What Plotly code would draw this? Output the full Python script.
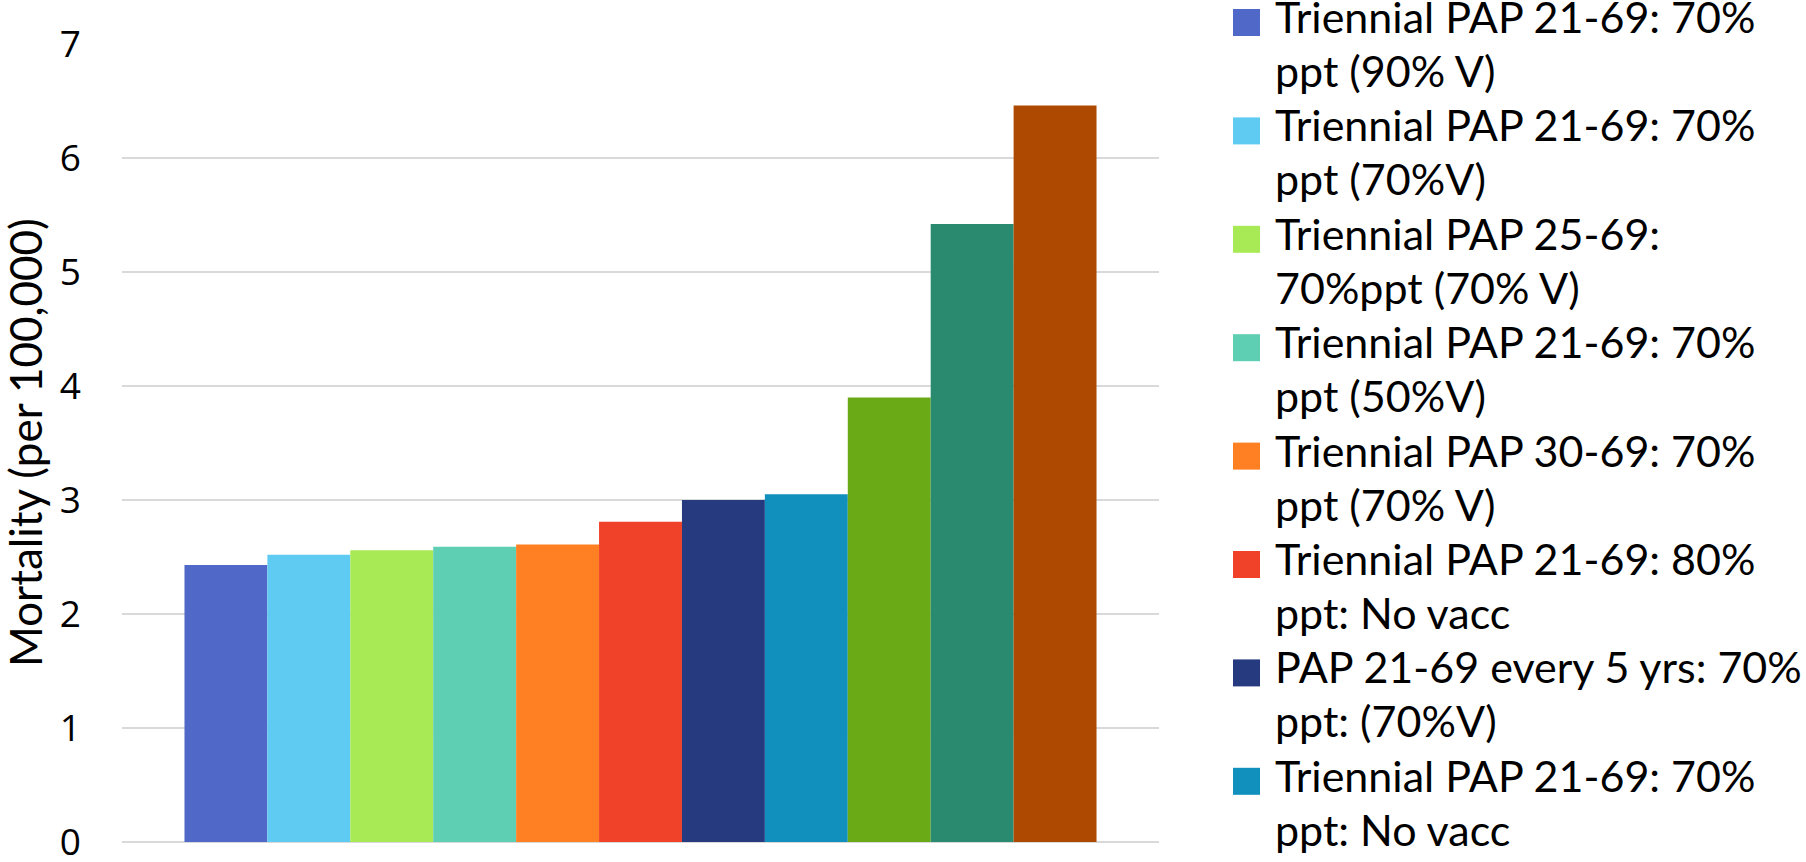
import plotly.graph_objects as go

# Screening strategies (series) and their cervical cancer mortality per 100,000
strategies = [
    "Triennial PAP 21-69: 70%<br>ppt (90% V)",
    "Triennial PAP 21-69: 70%<br>ppt (70%V)",
    "Triennial PAP 25-69:<br>70%ppt (70% V)",
    "Triennial PAP 21-69: 70%<br>ppt (50%V)",
    "Triennial PAP 30-69: 70%<br>ppt (70% V)",
    "Triennial PAP 21-69: 80%<br>ppt: No vacc",
    "PAP 21-69 every 5 yrs: 70%<br>ppt: (70%V)",
    "Triennial PAP 21-69: 70%<br>ppt: No vacc",
    "Strategy 9",
    "Strategy 10",
    "Strategy 11",
]
mortality = [2.43, 2.52, 2.56, 2.59, 2.61, 2.81, 3.00, 3.05, 3.90, 5.42, 6.46]
colors = [
    "#5068c8", "#5fcbf2", "#a8ea55", "#5ecfb2", "#ff8022", "#f04228",
    "#263a80", "#118fbd", "#6aaa17", "#2a8a70", "#ad4900",
]
legend_count = 8  # entries listed in the side legend
y_ticks = [0, 1, 2, 3, 4, 5, 6, 7]
y_title = "Mortality (per 100,000)"

W, H = 1806, 862
L, R, T, B = 122, 1159, 44, 842  # plot area in pixels

TEXT_FONT = "Lato, 'Open Sans', sans-serif"
TICK_FONT = "'Open Sans', 'DejaVu Sans', sans-serif"

fig = go.Figure()
for name, val, col in zip(strategies, mortality, colors):
    fig.add_trace(go.Bar(
        x=[""], y=[val], name=name.replace("<br>", " "),
        marker=dict(color=col, line=dict(width=0)),
        showlegend=False,
    ))


def px_x(x):
    return (x - L) / (R - L)


def px_y(y):
    return (B - y) / (B - T)


shapes = []
annotations = []
entry_step = 108.4
for i in range(legend_count):
    cy = 22.5 + i * entry_step
    shapes.append(dict(
        type="rect", xref="paper", yref="paper",
        x0=px_x(1233), x1=px_x(1260), y0=px_y(cy + 13.5), y1=px_y(cy - 13.5),
        fillcolor=colors[i], line=dict(width=0),
    ))
    for j, line in enumerate(strategies[i].split("<br>")):
        annotations.append(dict(
            xref="paper", yref="paper", x=px_x(1273), y=px_y(cy - 6 + j * 54),
            xanchor="left", yanchor="middle", showarrow=False,
            text=line, font=dict(family=TEXT_FONT, size=43, color="#000000"),
        ))

annotations.append(dict(
    xref="paper", yref="paper", x=px_x(25), y=px_y(443),
    xanchor="center", yanchor="middle", showarrow=False, textangle=-90,
    text=y_title, font=dict(family=TEXT_FONT, size=44, color="#000000"),
))

fig.update_layout(
    width=W, height=H,
    margin=dict(l=L, r=W - R, t=T, b=H - B, pad=0, autoexpand=False),
    paper_bgcolor="#ffffff", plot_bgcolor="#ffffff",
    barmode="group", bargap=0.1205, bargroupgap=0,
    showlegend=False,
    shapes=shapes, annotations=annotations,
    xaxis=dict(showticklabels=False, showgrid=False, zeroline=False,
               showline=False, ticks="", automargin=False),
    yaxis=dict(range=[0, 7], tickvals=y_ticks, showgrid=True,
               gridcolor="#d9d9d9", gridwidth=2, zeroline=True,
               zerolinecolor="#d9d9d9", zerolinewidth=2, showline=False,
               ticks="", ticklabelstandoff=40, ticklabeloverflow="allow",
               automargin=False,
               tickfont=dict(family=TICK_FONT, size=37, color="#000000")),
)

fig.write_html("out.html")
